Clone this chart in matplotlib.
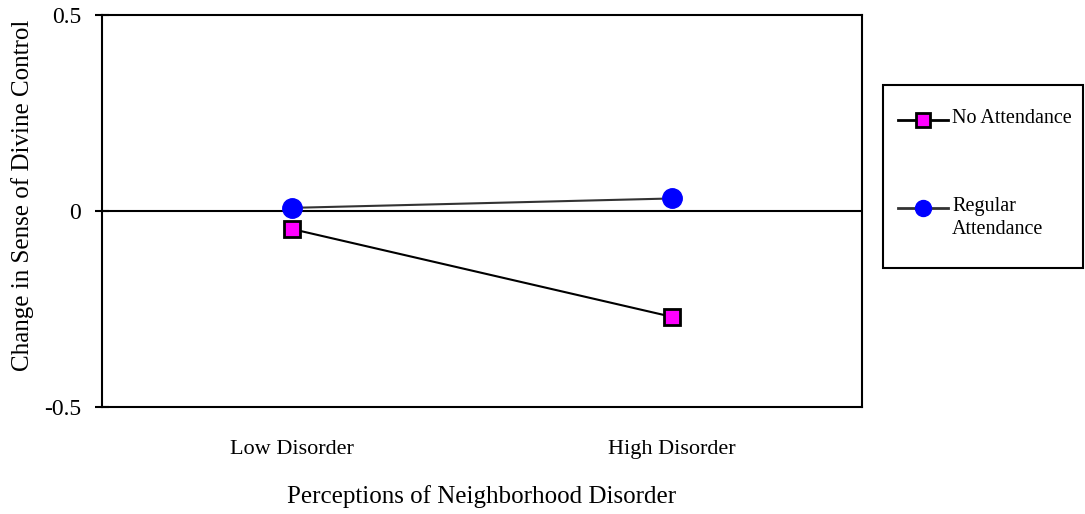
import matplotlib
matplotlib.use("Agg")
import matplotlib.pyplot as plt
from matplotlib.patches import Rectangle
from matplotlib.lines import Line2D

categories = ["Low Disorder", "High Disorder"]
no_attendance = [-0.046, -0.27]
regular_attendance = [0.008, 0.032]
yticks = [-0.5, 0, 0.5]
ytick_labels = ["-0.5", "0", "0.5"]
series_labels = ["No Attendance", "Regular\nAttendance"]

plt.rcParams['font.family'] = ['Liberation Serif', 'DejaVu Serif']

W, H = 1085, 514
fig = plt.figure(figsize=(W/100, H/100), dpi=100)
ax = fig.add_axes([102/W, 1-407/H, 760/W, 392/H])

sq_style = dict(color='black', lw=1.5, marker='s',
                markerfacecolor='#ff00ff', markeredgecolor='black', markeredgewidth=2)
ci_style = dict(color='#333333', lw=1.5, marker='o',
                markerfacecolor='#0000ff', markeredgecolor='#0000ff')

x = list(range(len(categories)))
ax.plot(x, no_attendance, zorder=3, markersize=12, **sq_style)
ax.plot(x, regular_attendance, zorder=3, markersize=14, **ci_style)
ax.axhline(0, color='black', lw=1.5, zorder=2)

ax.set_xlim(-0.5, 1.5)
ax.set_ylim(-0.5, 0.5)
ax.set_yticks(yticks)
ax.set_yticklabels(ytick_labels, fontsize=17)
ax.set_xticks(x)
ax.set_xticklabels(categories, fontsize=16)
ax.tick_params(axis='x', length=0, pad=24)
ax.tick_params(axis='y', direction='inout', length=10, width=1.5, pad=10)
for s in ax.spines.values():
    s.set_linewidth(1.5)
ax.set_ylabel("Change in Sense of Divine Control", fontsize=18)
ax.yaxis.set_label_coords(-0.089, 0.541)
ax.set_xlabel("Perceptions of Neighborhood Disorder", fontsize=18)
ax.xaxis.set_label_coords(0.5, -0.2)

# legend drawn manually in figure coordinates
rect = Rectangle((883/W, 1-268/H), 200/W, 183/H, transform=fig.transFigure,
                 fill=False, edgecolor='black', lw=1.5)
fig.patches.append(rect)
entries = [(sq_style, 9.5, series_labels[0], 120), (ci_style, 11.5, series_labels[1], 208)]
for style, ms, lab, yc in entries:
    fig.add_artist(Line2D([898/W, 948/W], [1-yc/H, 1-yc/H], transform=fig.transFigure,
                          color=style['color'], lw=2))
    fig.add_artist(Line2D([923/W], [1-yc/H], transform=fig.transFigure, linestyle='None',
                          marker=style['marker'], markersize=ms,
                          markerfacecolor=style['markerfacecolor'],
                          markeredgecolor=style['markeredgecolor'],
                          markeredgewidth=style.get('markeredgewidth', 1.0)))
    fig.text(952/W, 1-(yc-11)/H, lab, fontsize=14.5, va='top', ha='left', linespacing=1.3)

fig.savefig("out.png", dpi=100)
